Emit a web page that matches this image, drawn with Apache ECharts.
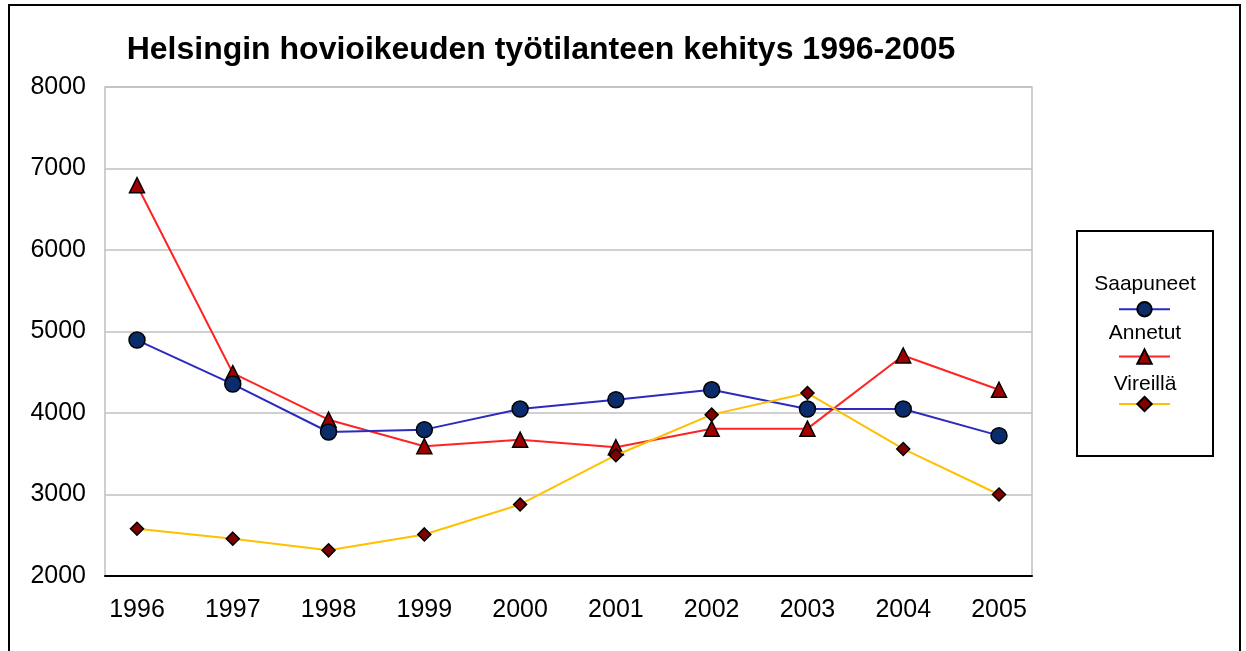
<!DOCTYPE html>
<html>
<head>
<meta charset="utf-8">
<script src="https://cdn.jsdelivr.net/npm/echarts@6/dist/echarts.min.js"></script>
<style>
html,body{margin:0;padding:0;background:#fff;}
#chart{width:1246px;height:651px;}
</style>
</head>
<body>
<div id="chart"></div>
<script>
const titleText = 'Helsingin hovioikeuden työtilanteen kehitys 1996-2005';
const years = ['1996','1997','1998','1999','2000','2001','2002','2003','2004','2005'];
const saapuneet = [4895, 4355, 3767, 3796, 4049, 4163, 4285, 4049, 4049, 3722];
const annetut   = [6795, 4490, 3918, 3592, 3673, 3580, 3808, 3808, 4706, 4285];
const vireilla  = [2580, 2458, 2315, 2510, 2878, 3482, 3980, 4245, 3559, 3000];
const yTicks = { min: 2000, max: 8000, interval: 1000 };

const FONT = '"Liberation Sans", Arial, sans-serif';
const chart = echarts.init(document.getElementById('chart'), null, { renderer: 'canvas' });

const names = ['Saapuneet', 'Annetut', 'Vireillä'];

chart.setOption({
  animation: false,
  backgroundColor: '#ffffff',
  title: {
    text: titleText,
    left: 536, top: 29, textAlign: 'center',
    textStyle: { fontFamily: FONT, fontSize: 32, fontWeight: 'bold', color: '#000' }
  },
  legend: {
    orient: 'vertical',
    left: 1118, top: 301,
    itemWidth: 51, itemHeight: 18, itemGap: 31,
    padding: 0,
    formatter: function () { return ''; },
    textStyle: { fontSize: 12, lineHeight: 18 },
    data: names
  },
  grid: [
    { left: 105, right: 214, top: 87, bottom: 75, show: true, borderColor: '#c0c0c0', borderWidth: 1.5, containLabel: false },
    { left: 137, right: 247, top: 87, bottom: 75, containLabel: false }
  ],
  xAxis: [
    { gridIndex: 0, type: 'category', data: years, boundaryGap: true,
      axisLine: { show: true, lineStyle: { color: '#000', width: 2 } },
      axisTick: { show: false }, axisLabel: { show: false }, splitLine: { show: false } },
    { gridIndex: 1, type: 'category', data: years, boundaryGap: false,
      axisLine: { show: false }, axisTick: { show: false },
      axisLabel: { show: true, fontFamily: FONT, fontSize: 25, color: '#000', margin: 22 },
      splitLine: { show: false } }
  ],
  yAxis: [
    { gridIndex: 0, type: 'value', min: yTicks.min, max: yTicks.max, interval: yTicks.interval,
      axisLine: { show: false }, axisTick: { show: false },
      axisLabel: { fontFamily: FONT, fontSize: 25, color: '#000', margin: 19, formatter: function (v) { return String(v); } },
      splitLine: { show: true, lineStyle: { color: '#c0c0c0', width: 1.5 } } },
    { gridIndex: 1, type: 'value', min: yTicks.min, max: yTicks.max, interval: yTicks.interval,
      show: false, splitLine: { show: false } }
  ],
  series: [
    { name: names[0], type: 'line', xAxisIndex: 1, yAxisIndex: 1, data: saapuneet,
      symbol: 'circle', symbolSize: 16, z: 3,
      lineStyle: { color: '#2b2bbf', width: 2 },
      itemStyle: { color: '#0b2c6b', borderColor: '#000', borderWidth: 1.5 } },
    { name: names[1], type: 'line', xAxisIndex: 1, yAxisIndex: 1, data: annetut,
      symbol: 'triangle', symbolSize: 15, z: 2,
      lineStyle: { color: '#ff2424', width: 2 },
      itemStyle: { color: '#a00000', borderColor: '#000', borderWidth: 1.5 } },
    { name: names[2], type: 'line', xAxisIndex: 1, yAxisIndex: 1, data: vireilla,
      symbol: 'diamond', symbolSize: 13, z: 4,
      lineStyle: { color: '#ffc000', width: 2 },
      itemStyle: { color: '#800000', borderColor: '#000', borderWidth: 1.5 } }
  ],
  graphic: [
    { type: 'rect', shape: { x: 9, y: 5, width: 1231, height: 720 }, silent: true,
      style: { fill: 'none', stroke: '#000', lineWidth: 2 } },
    { type: 'rect', shape: { x: 1077, y: 231, width: 136, height: 225 }, silent: true,
      style: { fill: 'none', stroke: '#000', lineWidth: 2 } },
    { type: 'text', x: 1145, y: 284, silent: true,
      style: { text: names[0], fontFamily: FONT, fontSize: 21, fill: '#000', align: 'center', verticalAlign: 'middle' } },
    { type: 'text', x: 1145, y: 333, silent: true,
      style: { text: names[1], fontFamily: FONT, fontSize: 21, fill: '#000', align: 'center', verticalAlign: 'middle' } },
    { type: 'text', x: 1145, y: 384, silent: true,
      style: { text: names[2], fontFamily: FONT, fontSize: 21, fill: '#000', align: 'center', verticalAlign: 'middle' } }
  ]
});
</script>
</body>
</html>
